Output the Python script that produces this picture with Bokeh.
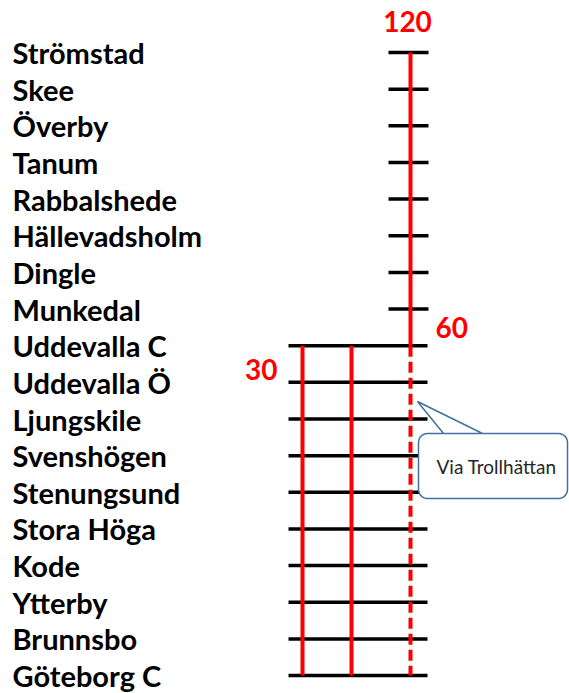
import numpy as np
from bokeh.plotting import figure
from bokeh.models import Range1d, ColumnDataSource
from bokeh.core.properties import value
from bokeh.embed import file_html
from bokeh.resources import INLINE

# ---------------- data ----------------
stations = ["Strömstad", "Skee", "Överby", "Tanum", "Rabbalshede", "Hällevadsholm",
            "Dingle", "Munkedal", "Uddevalla C", "Uddevalla Ö", "Ljungskile",
            "Svenshögen", "Stenungsund", "Stora Höga", "Kode", "Ytterby",
            "Brunnsbo", "Göteborg C"]
service_interval = ["120", "60", "30", "30"]          # minutes between trains
service_from = ["Strömstad", "Uddevalla C", "Uddevalla C", "Uddevalla C"]
service_to = ["Uddevalla C", "Göteborg C", "Göteborg C", "Göteborg C"]
service_via = ["", "Trollhättan", "", ""]
callout_text = "Via Trollhättan"

# ---------------- layout / style ----------------
lane_x = [410, 410, 302, 351]
service_dash = ["solid", "11 5", "solid", "solid"]
RED = "#FF0000"
W, H = 569, 693
Y0, DY = 52.0, 36.65          # pixel position of first station and spacing (for range set-up)

def idx_of(py):
    return (py - Y0) / DY

p = figure(width=W, height=H, output_backend="svg", toolbar_location=None,
           x_range=Range1d(0, W),
           y_range=Range1d(idx_of(H), idx_of(0)),
           min_border=0)
p.axis.visible = False
p.grid.visible = False
p.outline_line_color = None
p.background_fill_color = "white"
p.border_fill_color = "white"

sidx = {s: i for i, s in enumerate(stations)}

# station ticks: span the lanes that serve each station
x0s, x1s, ys = [], [], []
for s, i in sidx.items():
    lanes = [lane_x[k] for k in range(len(service_interval))
             if sidx[service_from[k]] <= i <= sidx[service_to[k]]]
    lo, hi = min(lanes), max(lanes)
    if lo == hi:
        x0s.append(lo - 22); x1s.append(hi + 18)
    else:
        x0s.append(lo - 14); x1s.append(hi + 17)
    ys.append(i)
p.segment(x0=x0s, y0=ys, x1=x1s, y1=ys, line_color="black", line_width=3.5)

# service lines
for k in range(len(service_interval)):
    p.segment(x0=[lane_x[k]], y0=[sidx[service_from[k]]], x1=[lane_x[k]],
              y1=[sidx[service_to[k]]], line_color=RED, line_width=4,
              line_dash=service_dash[k])

# service labels
lab_cfg = {0: dict(dx=-3, dy=-31, align="center"),
           1: dict(dx=25, dy=-18, align="left"),
           2: dict(dx=-25, dy=24, align="right")}
for k, cfg in lab_cfg.items():
    p.text(x=[lane_x[k]], y=[sidx[service_from[k]]], text=[service_interval[k]],
           x_offset=cfg["dx"], y_offset=cfg["dy"], text_align=cfg["align"],
           text_baseline="middle", text_color=RED, text_font=value("Lato"),
           text_font_style="bold", text_font_size="28px")

# station names
src = ColumnDataSource(dict(x=[12] * len(stations), y=list(range(len(stations))), t=stations))
p.text(x="x", y="y", text="t", source=src, text_align="left", text_baseline="middle",
       text_font=value("Lato"), text_font_style="bold", text_font_size="29px",
       text_color="black")

# callout for the via service
L, R, T, B, r = 418, 567, 433, 498, 9
tip = (417, 401)
pts = [tip, (443, T)]
def arc(cx, cy, a0, a1):
    a = np.linspace(a0, a1, 8)
    return list(zip(cx + r * np.cos(a), cy + r * np.sin(a)))
pts += [(R - r, T)] + arc(R - r, T + r, -np.pi / 2, 0)
pts += [(R, B - r)] + arc(R - r, B - r, 0, np.pi / 2)
pts += [(L + r, B)] + arc(L + r, B - r, np.pi / 2, np.pi)
pts += [(L, T + r)] + arc(L + r, T + r, np.pi, 1.5 * np.pi)
pts += [(482, T), tip]
px = [q[0] for q in pts]
py = [idx_of(q[1]) for q in pts]
p.patch(px, py, fill_color="white", line_color="#41719C", line_width=1.5)
p.text(x=[436], y=[idx_of((T + B) / 2)], text=[callout_text], text_align="left",
       text_baseline="middle", text_font=value("Lato"), text_font_size="19px",
       text_color="#262626")

open("out.html", "w").write(file_html(p, INLINE))
